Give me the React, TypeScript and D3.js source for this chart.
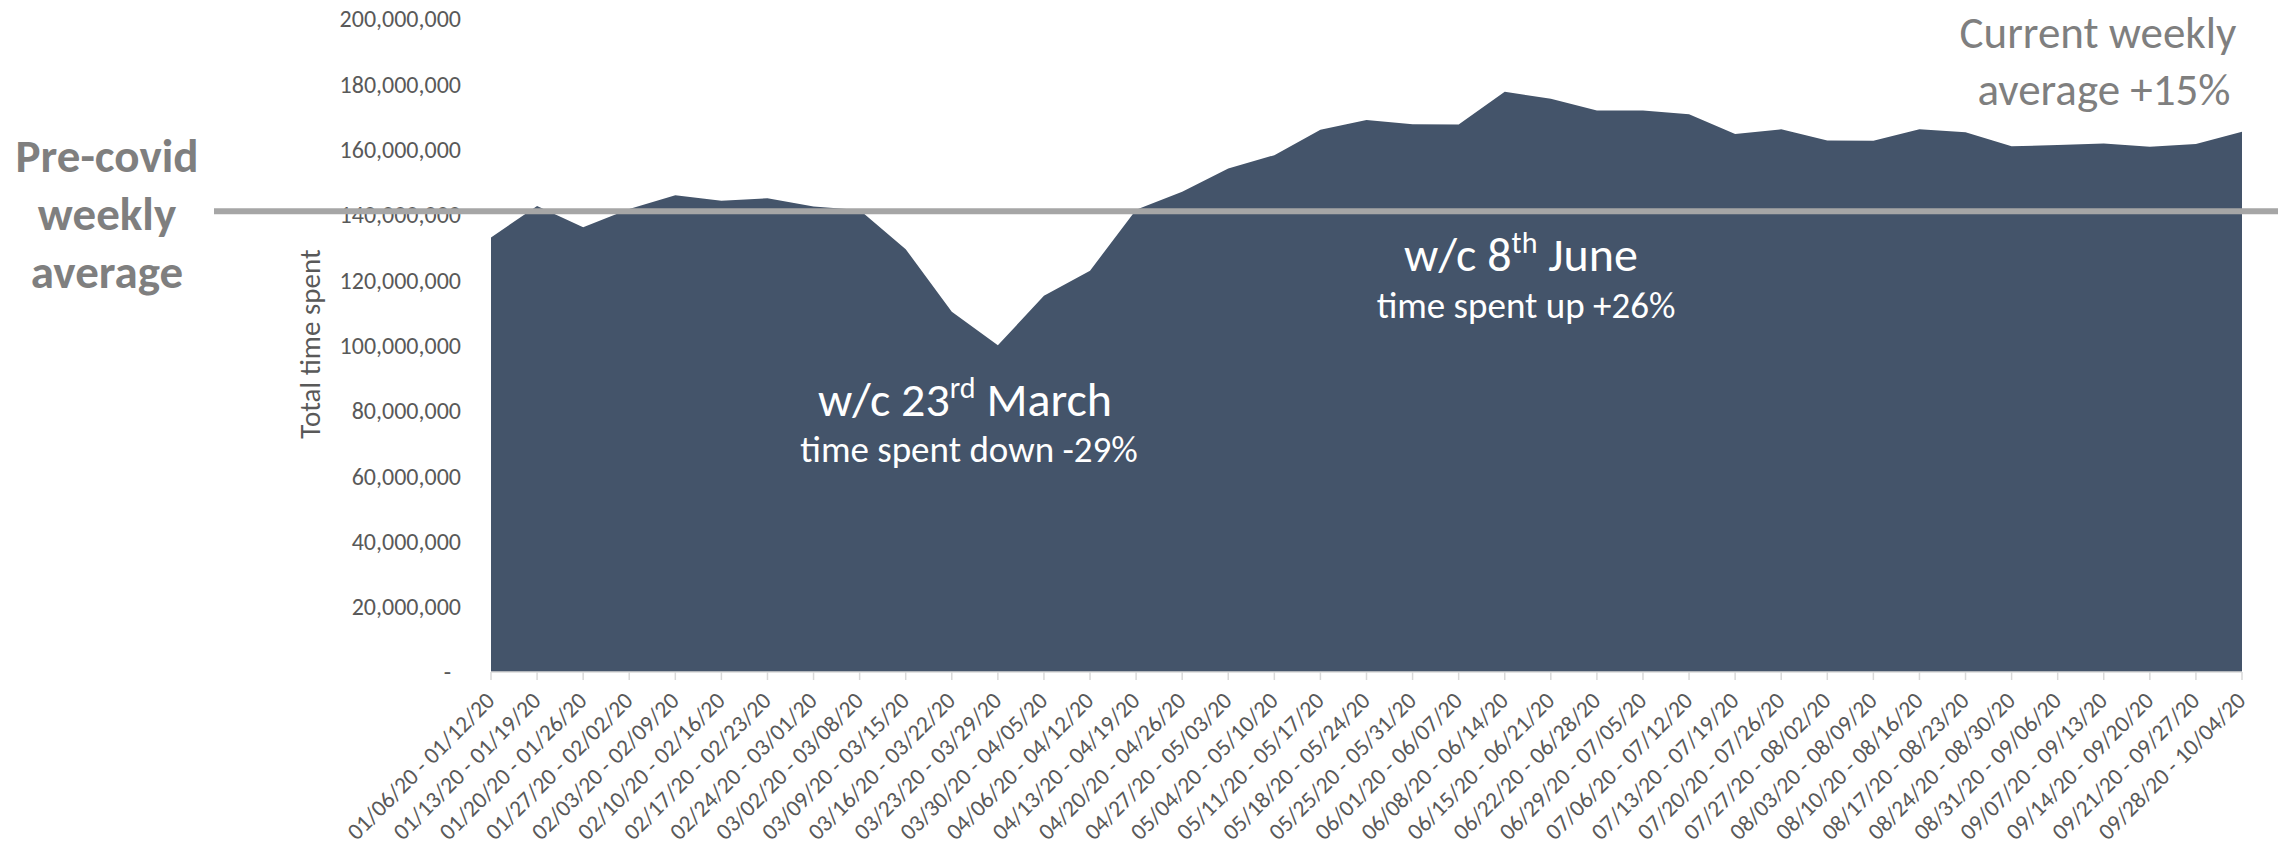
import React from 'react';
import * as d3 from 'd3';

// Weekly buckets (Monday - Sunday)
const weekLabels: string[] = [
  '01/06/20 - 01/12/20', '01/13/20 - 01/19/20', '01/20/20 - 01/26/20', '01/27/20 - 02/02/20',
  '02/03/20 - 02/09/20', '02/10/20 - 02/16/20', '02/17/20 - 02/23/20', '02/24/20 - 03/01/20',
  '03/02/20 - 03/08/20', '03/09/20 - 03/15/20', '03/16/20 - 03/22/20', '03/23/20 - 03/29/20',
  '03/30/20 - 04/05/20', '04/06/20 - 04/12/20', '04/13/20 - 04/19/20', '04/20/20 - 04/26/20',
  '04/27/20 - 05/03/20', '05/04/20 - 05/10/20', '05/11/20 - 05/17/20', '05/18/20 - 05/24/20',
  '05/25/20 - 05/31/20', '06/01/20 - 06/07/20', '06/08/20 - 06/14/20', '06/15/20 - 06/21/20',
  '06/22/20 - 06/28/20', '06/29/20 - 07/05/20', '07/06/20 - 07/12/20', '07/13/20 - 07/19/20',
  '07/20/20 - 07/26/20', '07/27/20 - 08/02/20', '08/03/20 - 08/09/20', '08/10/20 - 08/16/20',
  '08/17/20 - 08/23/20', '08/24/20 - 08/30/20', '08/31/20 - 09/06/20', '09/07/20 - 09/13/20',
  '09/14/20 - 09/20/20', '09/21/20 - 09/27/20', '09/28/20 - 10/04/20',
];

// Total time spent per week
const timeSpent: number[] = [
  133100000, 142700000, 136200000, 141800000, 146000000, 144300000, 145100000, 142600000,
  141500000, 129500000, 110300000, 100100000, 115200000, 122900000, 141600000, 147100000,
  154200000, 158300000, 166100000, 169100000, 167800000, 167700000, 177700000, 175600000,
  172000000, 172000000, 170800000, 164800000, 166200000, 162800000, 162700000, 166200000,
  165300000, 161000000, 161400000, 161900000, 160900000, 161700000, 165500000,
];

const preCovidAverage = 141100000;

const yTicks: number[] = [
  0, 20000000, 40000000, 60000000, 80000000, 100000000,
  120000000, 140000000, 160000000, 180000000, 200000000,
];

const W = 2290;
const H = 849;
const plot = { left: 491, right: 2242, top: 19, bottom: 672 };
const FONT = 'Calibri, Carlito, Lato, sans-serif';
const AXIS_TEXT = '#595959';
const NOTE_GREY = '#7f7f7f';
const AREA_FILL = '#44546a';

export default function App() {
  const x = d3.scalePoint<string>().domain(weekLabels).range([plot.left, plot.right]);
  const y = d3.scaleLinear().domain([0, 200000000]).range([plot.bottom, plot.top]);

  const area = d3
    .area<number>()
    .x((_, i) => x(weekLabels[i]) as number)
    .y0(y(0))
    .y1((d) => y(d));

  const fmt = d3.format(',');
  const avgY = y(preCovidAverage);

  return (
    <svg
      width={W}
      height={H}
      viewBox={`0 0 ${W} ${H}`}
      style={{ position: 'absolute', left: 0, top: 0, display: 'block', background: '#fff' }}
      fontFamily={FONT}
    >
      <rect x={0} y={0} width={W} height={H} fill="#fff" />

      {/* y axis labels */}
      {yTicks.map((t) => (
        <text
          key={t}
          x={t === 0 ? 451 : 461}
          y={y(t)}
          dy="0.35em"
          textAnchor="end"
          fontSize={24}
          fill={AXIS_TEXT}
        >
          {t === 0 ? '-' : fmt(t)}
        </text>
      ))}
      <text
        transform={`translate(320, 344) rotate(-90)`}
        textAnchor="middle"
        fontSize={29}
        fill={AXIS_TEXT}
      >
        Total time spent
      </text>

      {/* series */}
      <path d={area(timeSpent) || ''} fill={AREA_FILL} />

      {/* x axis */}
      <line x1={plot.left} x2={plot.right} y1={y(0)} y2={y(0)} stroke="#d9d9d9" strokeWidth={1.5} />
      {weekLabels.map((w) => {
        const px = x(w) as number;
        return (
          <g key={w}>
            <line x1={px} x2={px} y1={y(0)} y2={y(0) + 8} stroke="#d9d9d9" strokeWidth={1.5} />
            <text
              transform={`translate(${px + 5}, ${y(0) + 30}) rotate(-45)`}
              textAnchor="end"
              fontSize={23.5}
              fill={AXIS_TEXT}
            >
              {w}
            </text>
          </g>
        );
      })}

      {/* pre-covid reference */}
      <line x1={214} x2={2278} y1={avgY} y2={avgY} stroke="#a6a6a6" strokeWidth={6} />
      <g fontWeight="bold" fontSize={47} fill={NOTE_GREY} textAnchor="middle">
        <text x={107} y={172}>Pre-covid</text>
        <text x={107} y={230}>weekly</text>
        <text x={107} y={288}>average</text>
      </g>

      <g fontSize={45} fill={NOTE_GREY} textAnchor="middle">
        <text x={2098} y={48}>Current weekly</text>
        <text x={2104} y={105}>average +15%</text>
      </g>

      {/* callouts */}
      <g fill="#ffffff" textAnchor="middle">
        <text x={965} y={416} fontSize={48}>
          w/c 23<tspan dy={-18} fontSize={30}>rd</tspan>
          <tspan dy={18}> March</tspan>
        </text>
        <text x={969} y={462} fontSize={37}>time spent down -29%</text>
        <text x={1521} y={271} fontSize={48}>
          w/c 8<tspan dy={-18} fontSize={30}>th</tspan>
          <tspan dy={18}> June</tspan>
        </text>
        <text x={1526} y={318} fontSize={37}>time spent up +26%</text>
      </g>
    </svg>
  );
}
